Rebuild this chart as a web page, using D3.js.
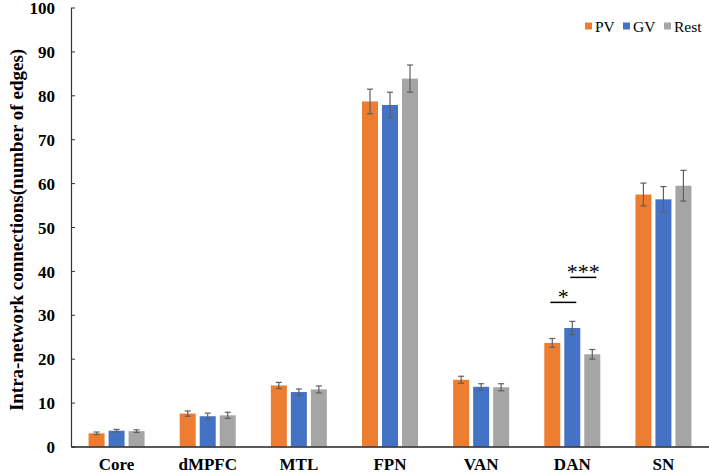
<!DOCTYPE html>
<html><head><meta charset="utf-8">
<script src="https://cdn.jsdelivr.net/npm/d3@7"></script>
<style>body{margin:0;background:#fff}svg{display:block}
svg text{font-family:"Liberation Serif","Times New Roman","DejaVu Serif",serif;}
</style>
</head><body>
<svg id="c" width="709" height="473"></svg>
<script>
const categories = ["Core","dMPFC","MTL","FPN","VAN","DAN","SN"];
const seriesNames = ["PV","GV","Rest"];
const seriesColors = ["#ED7D31","#4472C4","#A5A5A5"];
const pvValues   = [3.0, 7.5, 13.9, 78.6, 15.2, 23.6, 57.4];
const gvValues   = [3.6, 6.9, 12.4, 77.8, 13.6, 27.0, 56.3];
const restValues = [3.5, 7.1, 13.0, 83.8, 13.5, 21.0, 59.4];
const pvErr   = [0.3, 0.6, 0.7, 2.8, 0.8, 1.0, 2.6];
const gvErr   = [0.3, 0.7, 0.7, 2.9, 0.7, 1.5, 2.9];
const restErr = [0.3, 0.7, 0.8, 3.1, 0.8, 1.1, 3.5];
const yTicks = [0,10,20,30,40,50,60,70,80,90,100];
const sigMarks = [
  {category:"DAN", from:"PV", to:"GV", label:"*", level:0},
  {category:"DAN", from:"GV", to:"Rest", label:"***", level:1}
];

const values = [pvValues, gvValues, restValues];
const errs = [pvErr, gvErr, restErr];

const svg = d3.select("#c");
const mLeft = 71, mRight = 709, mTop = 7.5, mBottom = 446.5;

const x = d3.scaleBand().domain(categories).range([mLeft, mRight]);
const xs = d3.scaleBand().domain(seriesNames).range([0, 56]).paddingInner(0.2);
const y = d3.scaleLinear().domain([0,100]).range([mBottom, mTop]);
const off = (x.bandwidth() - 56) / 2;

const g = svg.append("g");

// bars
seriesNames.forEach((s, si) => {
  g.selectAll(null).data(categories).enter().append("rect")
    .attr("x", c => x(c) + off + xs(s))
    .attr("y", (c,i) => y(values[si][i]))
    .attr("width", xs.bandwidth())
    .attr("height", (c,i) => y(0) - y(values[si][i]))
    .attr("fill", seriesColors[si]);
});
// error bars
seriesNames.forEach((s, si) => {
  categories.forEach((c, i) => {
    const cx = x(c) + off + xs(s) + xs.bandwidth()/2;
    const v = values[si][i], e = errs[si][i];
    const eg = g.append("g").attr("stroke", "#5f5f5f").attr("stroke-width", 1.2);
    eg.append("line").attr("x1", cx).attr("x2", cx).attr("y1", y(v+e)).attr("y2", y(v-e));
    eg.append("line").attr("x1", cx-3).attr("x2", cx+3).attr("y1", y(v+e)).attr("y2", y(v+e));
    eg.append("line").attr("x1", cx-3).attr("x2", cx+3).attr("y1", y(v-e)).attr("y2", y(v-e));
  });
});

// y axis
const yAxis = d3.axisLeft(y).tickValues(yTicks).tickSizeInner(-4).tickSizeOuter(0).tickPadding(16);
const ya = svg.append("g").attr("transform", `translate(${mLeft},0)`).call(yAxis);
ya.attr("font-family", null);
ya.select(".domain").attr("stroke", "#333").attr("stroke-width", 1.2);
ya.selectAll(".tick line").attr("stroke", "#333");
ya.selectAll("text").attr("font-weight", "bold").attr("font-size", 17).attr("fill", "#000").attr("dy", "0.36em");

// x axis
const xAxis = d3.axisBottom(x).tickSize(0).tickPadding(11);
const xa = svg.append("g").attr("transform", `translate(0,${mBottom})`).call(xAxis);
xa.attr("font-family", null);
xa.select(".domain").attr("stroke", "#222").attr("stroke-width", 1.3);
xa.selectAll("text").attr("font-weight", "bold").attr("font-size", 17).attr("fill", "#000");

// y title
svg.append("text")
  .attr("transform", `translate(16,${(mTop+mBottom)/2 + 3}) rotate(-90)`)
  .attr("text-anchor", "middle").attr("dominant-baseline", "central")
  .attr("font-weight", "bold").attr("font-size", 19)
  .text("Intra-network connections(number of edges)");

// significance
sigMarks.forEach(m => {
  const ci = categories.indexOf(m.category);
  const maxTop = d3.max(values.map((v,si) => v[ci] + errs[si][ci]));
  const x1 = x(m.category) + off + xs(m.from) + xs.bandwidth()/2 - 2;
  const x2 = x(m.category) + off + xs(m.to) + xs.bandwidth()/2 + 4;
  const yy = y(maxTop) - 19 - m.level*25;
  svg.append("line").attr("x1", x1).attr("x2", x2).attr("y1", yy).attr("y2", yy)
    .attr("stroke", "#000").attr("stroke-width", 1.5);
  svg.append("text").attr("x", (x1+x2)/2).attr("y", yy + 2)
    .attr("text-anchor", "middle").attr("font-size", 22)
    .text(m.label);
});

// legend
const lg = svg.append("g").attr("transform", "translate(585,26)");
const legendX = [0, 38, 79];
seriesNames.forEach((s, si) => {
  lg.append("rect").attr("x", legendX[si]).attr("y", -3.5).attr("width", 7).attr("height", 7).attr("fill", seriesColors[si]);
  lg.append("text").attr("x", legendX[si] + 10).attr("y", 0).attr("dominant-baseline", "central")
    .attr("font-size", 15.5).text(s);
});
</script>
</body></html>
